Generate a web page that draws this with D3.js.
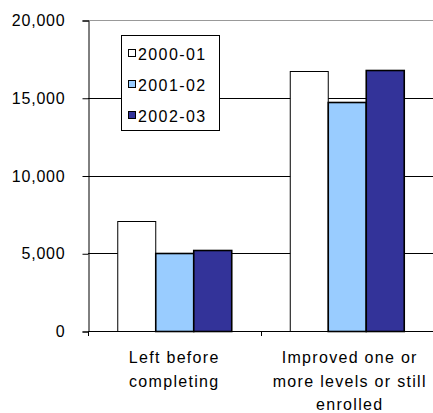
<!DOCTYPE html>
<html><head><meta charset="utf-8">
<script src="https://cdn.jsdelivr.net/npm/d3@7"></script>
<style>body{margin:0;background:#fff}svg{display:block}text{font-family:"Liberation Sans",Arial,sans-serif;fill:#000}</style>
</head><body><svg id="c" width="433" height="413"></svg>
<script>
const categories = [["Left before","completing"],["Improved one or","more levels or still","enrolled"]];
const seriesNames = ["2000-01","2001-02","2002-03"];
const seriesColors = ["#ffffff","#99ccff","#333399"];
const values2000 = [7050, 16700];
const values2001 = [5000, 14700];
const values2002 = [5200, 16800];
const yTicks = [0,5000,10000,15000,20000];

const seriesValues = [values2000, values2001, values2002];
const svg = d3.select("#c");
const L = 88, R = 433, T = 20, B = 331;
const catKeys = categories.map((c,i)=>i);
const x0 = d3.scaleBand().domain(catKeys).range([L,R]).paddingInner(0).paddingOuter(0);
const x1 = d3.scaleBand().domain(seriesNames).range([0,x0.bandwidth()]).paddingInner(0).paddingOuter(0.77);
const y = d3.scaleLinear().domain([0,20000]).range([B,T]);

// gridlines
svg.append("g").selectAll("line").data(yTicks.filter(t=>t>0)).join("line")
  .attr("x1",L).attr("x2",R).attr("y1",d=>Math.round(y(d))+0.5).attr("y2",d=>Math.round(y(d))+0.5)
  .attr("stroke",d=>d===20000?"#999":"#000").attr("stroke-width",1);

// bars
const g = svg.append("g");
catKeys.forEach(ci=>{
  seriesNames.forEach((s,si)=>{
    const v = seriesValues[si][ci];
    g.append("rect")
      .attr("x",x0(ci)+x1(s)+0.5).attr("y",Math.round(y(v))+0.5)
      .attr("width",x1.bandwidth()).attr("height",B-Math.round(y(v)))
      .attr("fill",seriesColors[si]).attr("stroke","#000").attr("stroke-width",si===0?1:1.6);
  });
});

// y axis
const yAxis = d3.axisLeft(y).tickValues(yTicks).tickSize(6).tickPadding(17).tickFormat(d3.format(","));
const ya = svg.append("g").attr("transform",`translate(${L+0.5},0.5)`).call(yAxis);
ya.select(".domain").attr("stroke","#000");
ya.selectAll(".tick line").attr("stroke","#000");
ya.selectAll("text").style("font-size","16px").style("letter-spacing","0.8px")
  .style("font-family","'Liberation Sans',Arial,sans-serif").attr("fill","#000");

// x axis line + ticks at category boundaries
const xa = svg.append("g");
xa.append("line").attr("x1",L).attr("x2",R).attr("y1",B+0.5).attr("y2",B+0.5).attr("stroke","#000");
const bounds = catKeys.map(c=>x0(c)).concat([R]);
xa.selectAll("line.t").data(bounds).join("line").attr("class","t")
  .attr("x1",d=>Math.round(d)+0.5).attr("x2",d=>Math.round(d)+0.5).attr("y1",B).attr("y2",B+5).attr("stroke","#000");

// category labels
catKeys.forEach(ci=>{
  const cx = x0(ci)+x0.bandwidth()/2 + (ci===1?3:0);
  const t = svg.append("text").attr("text-anchor","middle").style("font-size","16px").style("letter-spacing","1.3px");
  categories[ci].forEach((line,li)=>{
    t.append("tspan").attr("x",cx).attr("y",363+li*23.5).text(line);
  });
});

// legend
const lg = svg.append("g");
lg.append("rect").attr("x",121.5).attr("y",35.5).attr("width",98).attr("height",95).attr("fill","#fff").attr("stroke","#000");
seriesNames.forEach((s,i)=>{
  const cy = 54 + i*31;
  lg.append("rect").attr("x",128.5).attr("y",cy-4.5).attr("width",7).attr("height",7)
    .attr("fill",seriesColors[i]).attr("stroke","#000");
  lg.append("text").attr("x",138).attr("y",cy+6).style("font-size","16px").style("letter-spacing","1.4px").text(s);
});
</script></body></html>
